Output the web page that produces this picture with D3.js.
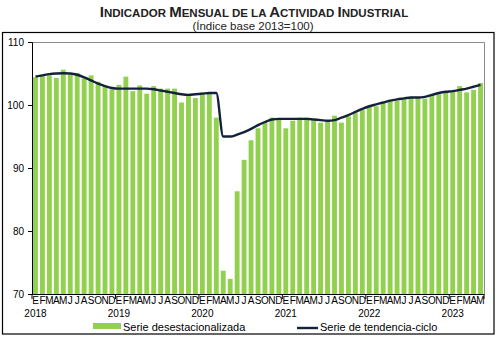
<!DOCTYPE html>
<html><head><meta charset="utf-8">
<script src="https://cdn.jsdelivr.net/npm/d3@7"></script>
<style>body{margin:0;background:#fff;}svg{display:block;font-family:"Liberation Sans",Arial,sans-serif;}</style>
</head><body><svg id="c" width="500" height="338"></svg>
<script>
const years = ["2018","2019","2020","2021","2022","2023"];
const monthLetters = ["E","F","M","A","M","J","J","A","S","O","N","D"];
const yTicks = [70, 80, 90, 100, 110];
const desestacionalizada = [
  104.4,104.6,104.7,104.3,105.6,104.8,105.1,104.2,104.7,103.7,103.0,102.5,
  103.2,104.5,102.2,103.1,101.8,103.0,102.6,102.6,102.6,100.4,101.5,101.1,
  102.0,102.0,98.0,73.7,72.4,86.3,91.3,94.4,96.3,97.2,98.0,97.7,
  96.3,97.5,98.0,98.0,97.5,97.2,97.5,98.3,97.2,98.2,98.7,99.2,
  99.7,99.8,100.4,100.6,100.7,100.9,101.3,101.2,101.0,101.5,101.7,102.0,
  102.2,103.0,102.0,102.4,103.5
];
const tendenciaCiclo = [
  104.5,104.7,104.9,105.0,105.05,105.0,104.8,104.4,103.9,103.4,103.0,102.7,
  102.6,102.6,102.6,102.6,102.6,102.5,102.3,102.1,101.9,101.7,101.6,101.7,
  101.8,101.9,101.9,95.0,95.0,95.3,95.7,96.2,96.8,97.3,97.7,97.8,
  97.8,97.8,97.8,97.8,97.7,97.6,97.5,97.6,98.0,98.4,98.9,99.4,
  99.8,100.1,100.4,100.7,100.9,101.05,101.2,101.2,101.3,101.6,101.9,102.1,
  102.2,102.4,102.6,102.9,103.2
];

const svg = d3.select("#c");
const L = 32, R = 484, T = 42, B = 294;
const idx = d3.range(desestacionalizada.length);
const x = d3.scaleBand().domain(idx).range([L, R]).paddingInner(0.3).paddingOuter(0.15);
const y = d3.scaleLinear().domain([70, 110]).range([B, T]);

// outer frame
svg.append("rect").attr("x",2.5).attr("y",32.5).attr("width",491.5).attr("height",301.5)
  .attr("fill","none").attr("stroke","#000").attr("stroke-width",1.2);

// title
const title = svg.append("text").attr("x",254).attr("y",17).attr("text-anchor","middle")
  .attr("font-weight","bold").attr("fill","#222");
const words = [["I","NDICADOR "],["M","ENSUAL "],["","DE LA "],["A","CTIVIDAD "],["I","NDUSTRIAL"]];
words.forEach(([big, small]) => {
  if (big) title.append("tspan").attr("font-size",15).text(big);
  title.append("tspan").attr("font-size",11.5).text(small);
});
svg.append("text").attr("x",253).attr("y",30).attr("text-anchor","middle")
  .attr("font-size",11.5).attr("fill","#222").text("(Índice base 2013=100)");

// plot border (top & right grey)
svg.append("path").attr("d",`M${L},${T+0.5}H${R+0.5}V${B}`).attr("fill","none")
  .attr("stroke","#8c8c8c").attr("stroke-width",1);

// bars
svg.append("g").selectAll("rect").data(desestacionalizada).join("rect")
  .attr("x",(d,i)=>x(i)).attr("width",x.bandwidth())
  .attr("y",d=>y(d)).attr("height",d=>B - y(d))
  .attr("fill","#92d050");

// trend line
const line = d3.line().x((d,i)=>x(i)+x.bandwidth()/2).y(d=>y(d)).curve(d3.curveMonotoneX);
svg.append("path").datum(tendenciaCiclo).attr("d",line).attr("fill","none")
  .attr("stroke","#14213d").attr("stroke-width",2.4);

// y axis
const yAxis = d3.axisLeft(y).tickValues(yTicks).tickSize(4).tickPadding(4);
const gy = svg.append("g").attr("transform",`translate(${L},0)`).call(yAxis);
gy.select(".domain").attr("stroke","#000");
gy.selectAll("text").attr("font-size",10).attr("fill","#000").attr("font-family","Liberation Sans, Arial, sans-serif");

// x axis line
svg.append("line").attr("x1",L).attr("x2",R+0.5).attr("y1",B+0.5).attr("y2",B+0.5).attr("stroke","#000");
// year separators
const step = x.step();
const yearStarts = years.map((yr,k)=>k*12);
svg.append("g").selectAll("line").data(yearStarts.concat([desestacionalizada.length])).join("line")
  .attr("x1",d=> d===0 ? L : (d===desestacionalizada.length ? R : x(d) - step*x.paddingInner()/2))
  .attr("x2",d=> d===0 ? L : (d===desestacionalizada.length ? R : x(d) - step*x.paddingInner()/2))
  .attr("y1",B).attr("y2",B+5).attr("stroke","#000");

// month letters
svg.append("g").selectAll("text").data(idx).join("text")
  .attr("x",i=>x(i)+x.bandwidth()/2).attr("y",303.5).attr("text-anchor","middle")
  .attr("font-size",10).attr("fill","#000").text(i=>monthLetters[i%12]);
// year labels
svg.append("g").selectAll("text").data(years).join("text")
  .attr("x",(d,k)=>x(k*12)+x.bandwidth()/2).attr("y",316.5).attr("text-anchor","middle")
  .attr("font-size",10).attr("fill","#000").text(d=>d);

// legend
svg.append("rect").attr("x",93).attr("y",323).attr("width",28).attr("height",6).attr("fill","#92d050");
svg.append("text").attr("x",123).attr("y",331).attr("font-size",11).attr("fill","#000").text("Serie desestacionalizada");
svg.append("line").attr("x1",297).attr("x2",318).attr("y1",328).attr("y2",328).attr("stroke","#14213d").attr("stroke-width",2.4);
svg.append("text").attr("x",320).attr("y",331).attr("font-size",11).attr("fill","#000").text("Serie de tendencia-ciclo");
</script></body></html>
